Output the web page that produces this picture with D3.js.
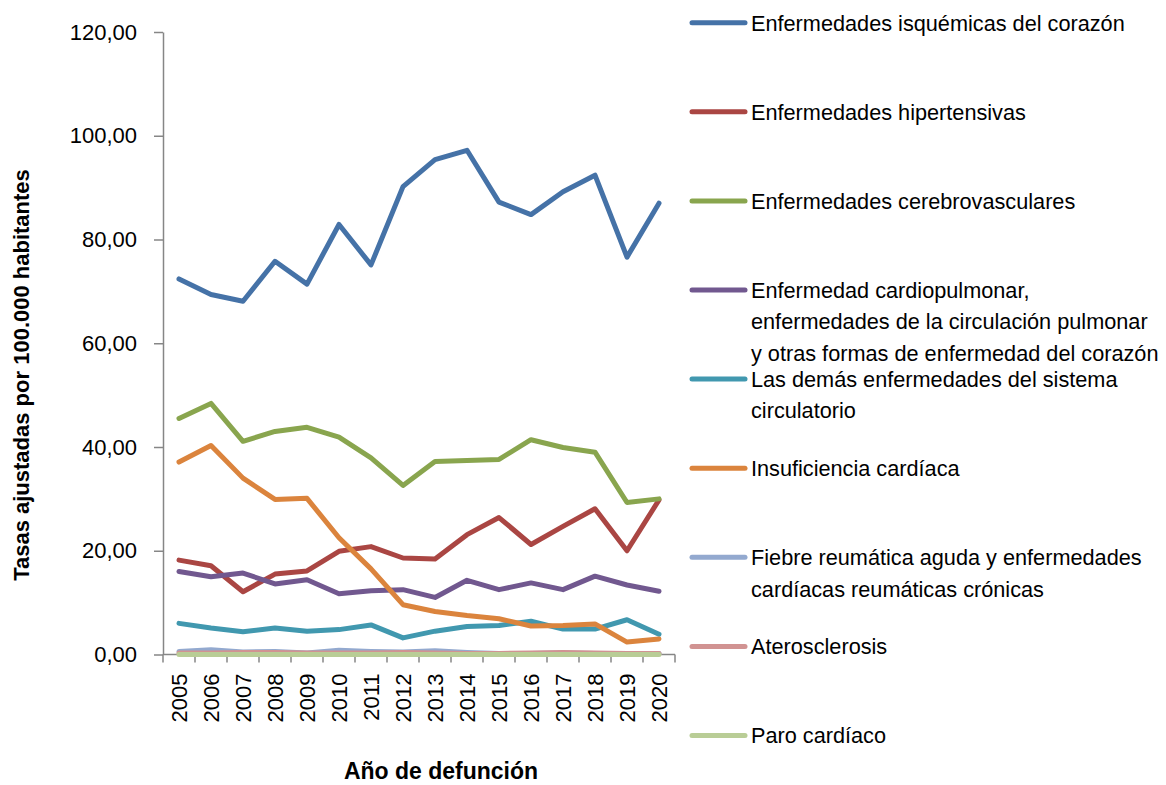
<!DOCTYPE html>
<html>
<head>
<meta charset="utf-8">
<script src="https://cdn.jsdelivr.net/npm/d3@7"></script>
<style>
    body { margin: 0; background: #fff; }
    svg { display: block; font-family: "Liberation Sans", Arial, sans-serif; }
</style>
</head>
<body>
<div id="chart"></div>
<script>
var years = ["2005", "2006", "2007", "2008", "2009", "2010", "2011", "2012",
             "2013", "2014", "2015", "2016", "2017", "2018", "2019", "2020"];

var isquemicas      = [72.4, 69.4, 68.1, 75.8, 71.4, 82.9, 75.1, 90.2, 95.4, 97.2, 87.2, 84.8, 89.2, 92.4, 76.6, 87.0];
var hipertensivas   = [18.2, 17.1, 12.1, 15.5, 16.1, 19.9, 20.8, 18.6, 18.4, 23.1, 26.4, 21.2, 24.7, 28.1, 20.0, 29.8];
var cerebrovasc     = [45.5, 48.4, 41.1, 43.0, 43.8, 41.9, 37.9, 32.6, 37.2, 37.4, 37.6, 41.4, 39.9, 39.0, 29.3, 30.0];
var cardiopulmonar  = [16.0, 15.0, 15.7, 13.6, 14.4, 11.7, 12.3, 12.5, 11.0, 14.3, 12.5, 13.8, 12.5, 15.1, 13.4, 12.2];
var demasCirc       = [6.0, 5.1, 4.4, 5.1, 4.5, 4.8, 5.7, 3.2, 4.5, 5.4, 5.6, 6.4, 4.9, 4.9, 6.7, 3.9];
var insuficiencia   = [37.1, 40.3, 34.0, 29.9, 30.1, 22.5, 16.5, 9.6, 8.3, 7.5, 6.9, 5.5, 5.6, 5.9, 2.4, 3.0];
var fiebreReumatica = [0.6, 0.9, 0.5, 0.6, 0.3, 0.8, 0.6, 0.5, 0.7, 0.4, 0.2, 0.2, 0.3, 0.2, 0.2, 0.2];
var aterosclerosis  = [0.3, 0.3, 0.4, 0.4, 0.3, 0.3, 0.3, 0.4, 0.3, 0.2, 0.2, 0.3, 0.4, 0.3, 0.2, 0.2];
var paroCardiaco    = [0.0, 0.0, 0.0, 0.0, 0.0, 0.0, 0.0, 0.0, 0.0, 0.0, 0.0, 0.0, 0.0, 0.0, 0.0, 0.0];

var seriesNames = [
    ["Enfermedades isquémicas del corazón"],
    ["Enfermedades hipertensivas"],
    ["Enfermedades cerebrovasculares"],
    ["Enfermedad cardiopulmonar,", "enfermedades de la circulación pulmonar", "y otras formas de enfermedad del corazón"],
    ["Las demás enfermedades del sistema", "circulatorio"],
    ["Insuficiencia cardíaca"],
    ["Fiebre reumática aguda y enfermedades", "cardíacas reumáticas crónicas"],
    ["Aterosclerosis"],
    ["Paro cardíaco"]
];
var seriesValues = [isquemicas, hipertensivas, cerebrovasc, cardiopulmonar, demasCirc,
                    insuficiencia, fiebreReumatica, aterosclerosis, paroCardiaco];
var seriesColors = ["#4572A7", "#AA4643", "#89A54E", "#71588F", "#4198AF",
                    "#DB843D", "#93A9CF", "#D19392", "#B9CD96"];
var yTicks = [0, 20, 40, 60, 80, 100, 120];

var width = 1166, height = 785;
var plot = {left: 163, right: 675, top: 32, bottom: 654.5};
var axisColor = "#868686";

var svg = d3.select("#chart").append("svg")
    .attr("width", width)
    .attr("height", height);

var x = d3.scaleBand().domain(years).range([plot.left, plot.right]);
var y = d3.scaleLinear().domain([0, 120]).range([plot.bottom, plot.top]);

var fmt = function (d) { return d3.format(".2f")(d).replace(".", ","); };

// y axis
var yAxis = svg.append("g")
    .attr("transform", "translate(" + plot.left + ",0)")
    .call(d3.axisLeft(y).tickValues(yTicks).tickFormat(fmt).tickSizeInner(9).tickSizeOuter(0).tickPadding(17));
yAxis.select(".domain").attr("stroke", axisColor).attr("stroke-width", 1.5);
yAxis.selectAll(".tick line").attr("stroke", axisColor).attr("stroke-width", 1.5);
yAxis.selectAll(".tick text")
    .attr("fill", "#000")
    .attr("font-size", "22px")
    .attr("font-family", "Liberation Sans, Arial, sans-serif");

// x axis, ticks between the categories
var xAxis = svg.append("g")
    .attr("transform", "translate(0," + plot.bottom + ")");
xAxis.append("line")
    .attr("x1", plot.left).attr("x2", plot.right)
    .attr("stroke", axisColor).attr("stroke-width", 1.5);
xAxis.selectAll("line.tk")
    .data(years.concat(["end"]))
    .enter().append("line")
    .attr("class", "tk")
    .attr("x1", function (d, i) { return plot.left + i * x.step(); })
    .attr("x2", function (d, i) { return plot.left + i * x.step(); })
    .attr("y1", 0).attr("y2", 8)
    .attr("stroke", axisColor).attr("stroke-width", 1.5);
xAxis.selectAll("text")
    .data(years)
    .enter().append("text")
    .attr("transform", function (d) {
        return "translate(" + (x(d) + x.bandwidth() / 2) + ",19) rotate(-90)";
    })
    .attr("text-anchor", "end")
    .attr("dy", "0.36em")
    .attr("font-size", "22px")
    .text(function (d) { return d; });

// axis titles
svg.append("text")
    .attr("transform", "translate(29,375) rotate(-90)")
    .attr("text-anchor", "middle")
    .attr("font-size", "22px")
    .attr("font-weight", "bold")
    .text("Tasas ajustadas por 100.000 habitantes");

svg.append("text")
    .attr("x", 441)
    .attr("y", 779)
    .attr("text-anchor", "middle")
    .attr("font-size", "23px")
    .attr("font-weight", "bold")
    .text("Año de defunción");

// lines
var line = d3.line()
    .x(function (d, i) { return x(years[i]) + x.bandwidth() / 2; })
    .y(function (d) { return y(d); });

svg.append("g").selectAll("path")
    .data(seriesValues)
    .enter().append("path")
    .attr("d", line)
    .attr("fill", "none")
    .attr("stroke", function (d, i) { return seriesColors[i]; })
    .attr("stroke-width", 5)
    .attr("stroke-linejoin", "round")
    .attr("stroke-linecap", "round");

// legend
var legendTop = 22.7, legendStep = 89.1, legendLine = 31.5;
var legend = svg.append("g").selectAll("g")
    .data(seriesNames)
    .enter().append("g")
    .attr("transform", function (d, i) { return "translate(0," + (legendTop + i * legendStep) + ")"; });

legend.append("line")
    .attr("x1", 692).attr("x2", 745)
    .attr("stroke", function (d, i) { return seriesColors[i]; })
    .attr("stroke-width", 5)
    .attr("stroke-linecap", "round");

legend.append("text")
    .attr("x", 751)
    .attr("font-size", "21.7px")
    .selectAll("tspan")
    .data(function (d) { return d; })
    .enter().append("tspan")
    .attr("x", 751)
    .attr("y", function (d, i) { return i * legendLine; })
    .attr("dy", "0.36em")
    .text(function (d) { return d; });
</script>
</body>
</html>
